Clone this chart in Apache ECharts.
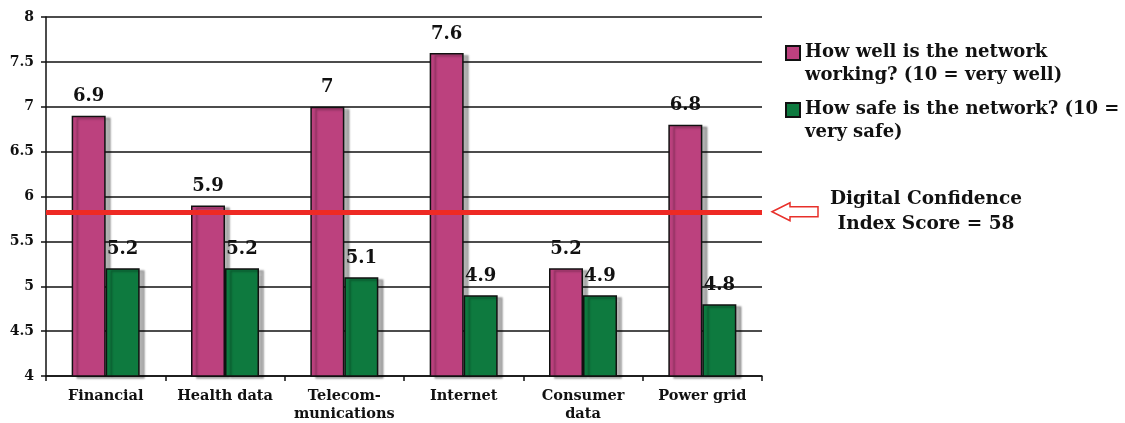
<!DOCTYPE html>
<html>
<head>
<meta charset="utf-8">
<script src="https://cdn.jsdelivr.net/npm/echarts@6/dist/echarts.min.js"></script>
<style>
html,body{margin:0;padding:0;background:#fff;}
#chart{width:1125px;height:423px;}
</style>
</head>
<body>
<div id="chart"></div>
<script>
const categories = ['Financial', 'Health data', 'Telecom-\nmunications', 'Internet', 'Consumer\ndata', 'Power grid'];
const workingValues = [6.9, 5.9, 7.0, 7.6, 5.2, 6.8];
const safeValues = [5.2, 5.2, 5.1, 4.9, 4.9, 4.8];
const seriesNames = ['How well is the network\nworking? (10 = very well)', 'How safe is the network? (10 =\nvery safe)'];
const indexScoreLine = 5.83;
const annotationText = 'Digital Confidence\nIndex Score = 58';

const FONT = '"DejaVu Serif", Georgia, serif';
const chart = echarts.init(document.getElementById('chart'), null, {renderer: 'canvas'});

const barStyle = (color) => ({
  color: color,
  borderColor: '#111',
  borderWidth: 1.5,
  shadowColor: 'rgba(0,0,0,0.3)',
  shadowOffsetX: 5,
  shadowOffsetY: 2,
  shadowBlur: 2
});
const valueLabel = {
  show: true,
  position: 'top',
  distance: 10,
  fontFamily: FONT,
  fontWeight: 'bold',
  fontSize: 18,
  color: '#111',
  formatter: (p) => String(p.value)
};

const option = {
  animation: false,
  backgroundColor: '#fff',
  grid: {left: 46, right: 363, top: 17, bottom: 45},
  legend: {
    orient: 'vertical',
    left: 780,
    top: 35,
    itemWidth: 14,
    itemHeight: 46,
    itemGap: 9,
    icon: 'path://M0,5H14V19H0Z M0,0 M14,46',
    selectedMode: false,
    textStyle: {fontFamily: FONT, fontWeight: 'bold', fontSize: 18, color: '#111', lineHeight: 23},
    data: seriesNames
  },
  xAxis: {
    type: 'category',
    data: categories,
    axisLine: {lineStyle: {color: '#111', width: 1.5}},
    axisTick: {show: true, length: 5, lineStyle: {color: '#111', width: 1.5}},
    axisLabel: {fontFamily: FONT, fontWeight: 'bold', fontSize: 14.5, color: '#111', margin: 11, lineHeight: 18, interval: 0}
  },
  yAxis: {
    type: 'value',
    min: 4, max: 8, interval: 0.5,
    axisLine: {show: true, lineStyle: {color: '#111', width: 1.5}},
    axisTick: {show: true, length: 5, lineStyle: {color: '#111', width: 1.5}},
    splitLine: {lineStyle: {color: '#111', width: 1.5}},
    axisLabel: {fontFamily: FONT, fontWeight: 'bold', fontSize: 14, color: '#111', margin: 12}
  },
  series: [
    {
      name: seriesNames[0],
      type: 'bar',
      data: workingValues,
      barWidth: 34,
      barGap: '0%',
      itemStyle: barStyle('#BC417E'),
      label: valueLabel,
      markLine: {
        silent: true,
        symbol: ['none', 'none'],
        label: {show: false},
        lineStyle: {color: '#EE2A24', width: 5, type: 'solid'},
        data: [{yAxis: indexScoreLine}]
      },
      z: 2
    },
    {
      name: seriesNames[1],
      type: 'bar',
      data: safeValues,
      barWidth: 34,
      barGap: '0%',
      itemStyle: barStyle('#0E7A3F'),
      label: valueLabel,
      z: 2
    }
  ]
};
chart.setOption(option);

// annotation arrow + text, anchored to the index line
const yLine = chart.convertToPixel({yAxisIndex: 0}, indexScoreLine);
const ax = 772;
chart.setOption({
  graphic: [
    {
      type: 'polygon',
      shape: {points: [
        [ax, yLine], [ax + 18, yLine - 9], [ax + 18, yLine - 5], [ax + 46, yLine - 5],
        [ax + 46, yLine + 5], [ax + 18, yLine + 5], [ax + 18, yLine + 9]
      ]},
      style: {fill: '#fff', stroke: '#E8302A', lineWidth: 1.5}
    },
    {
      type: 'text',
      x: 926,
      y: yLine - 25,
      style: {
        text: annotationText,
        fontFamily: FONT, fontWeight: 'bold', fontSize: 18.5, lineHeight: 25,
        fill: '#111', align: 'center', verticalAlign: 'top'
      }
    }
  ]
});
</script>
</body>
</html>
